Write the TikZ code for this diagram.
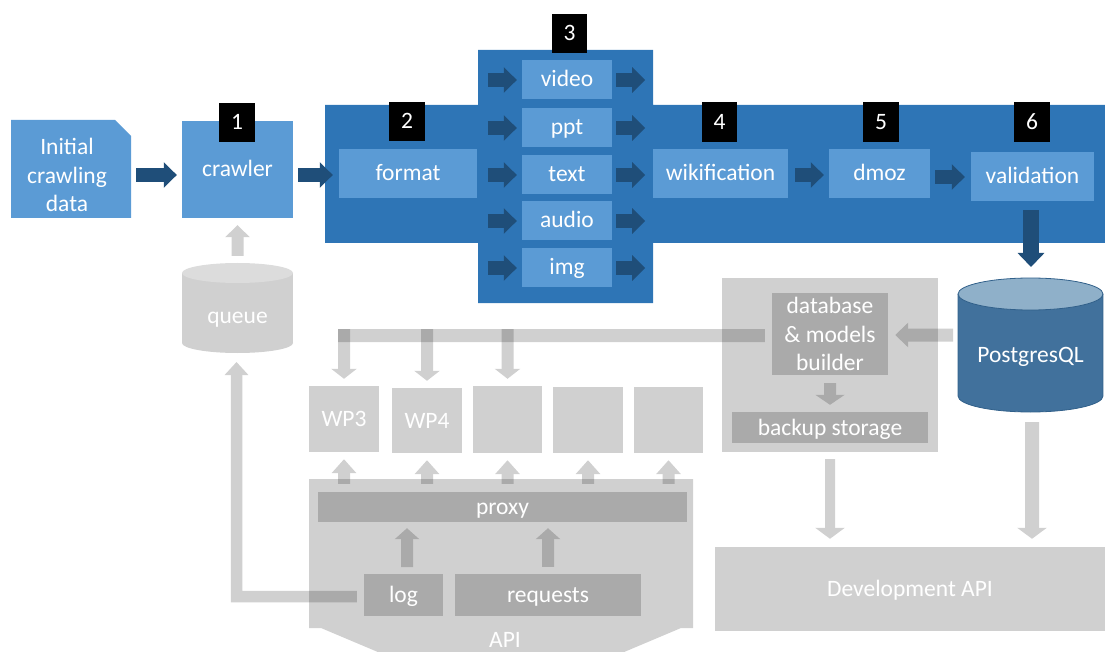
\documentclass[tikz,border=0pt]{standalone}
\usepackage{fontspec}
\setmainfont{Carlito}
\usetikzlibrary{calc,arrows.meta}
\definecolor{band}{HTML}{2E75B6}
\definecolor{lblue}{HTML}{5B9BD5}
\definecolor{darr}{HTML}{1F4E79}
\definecolor{pgbody}{HTML}{41719C}
\definecolor{pgtopcol}{HTML}{8FB0C9}
\definecolor{pgline}{HTML}{31608A}
\definecolor{qbody}{HTML}{D0D0D0}
\definecolor{qtop}{HTML}{DCDCDC}
\newcommand\grayarrow[2][]{\begin{scope}[transparency group,opacity=0.185]\draw[garr,#1] #2;\end{scope}}
\begin{document}
\begin{tikzpicture}[x=1pt,y=-1pt,
  every node/.style={font=\fontsize{23.5}{28.5}\selectfont, text=white},
  one/.style={text height=17.5pt, text depth=2.5pt},
  rect/.style 2 args={minimum width=#1pt, minimum height=#2pt, inner sep=0pt},
  bluebox/.style={fill=lblue, one},
  lab/.style={fill=black, one, rect={36}{39}},
  gbox/.style={fill=black, fill opacity=0.185, text opacity=1, one},
  barrow/.style={draw=darr, line width=14pt, -{Triangle[width=25pt,length=13pt]}},
  garr/.style={draw=black, line width=12pt, -{Triangle[width=24pt,length=12pt]}}]
\useasboundingbox (0,0) rectangle (1105,652);
\clip (0,0) rectangle (1105,652);

% ---------- blue pipeline ----------
\fill[band] (325,105) -- (478,105) -- (478,50) -- (653,50) -- (653,105) -- (1105,105)
  -- (1105,243) -- (653,243) -- (653,303) -- (478,303) -- (478,243) -- (325,243) -- cycle;
\fill[lblue] (11,120) -- (115,120) -- (131,136) -- (131,218) -- (11,218) -- cycle;
\node[align=center] (init) at (67,175) {Initial\\crawling\\data};
\coordinate (initE) at (131,175);

\node[bluebox, rect={111}{97}] (crawler) at (237.5,169.5) {crawler};
\node[bluebox, rect={138}{49}] (format) at (408,173.5) {format};
\node[bluebox, rect={90}{39}] (video) at (567,79.5) {video};
\node[bluebox, rect={90}{39}] (ppt) at (567,127.5) {ppt};
\node[bluebox, rect={90}{39}] (txt) at (567,174.5) {text};
\node[bluebox, rect={90}{39}] (audio) at (567,220.5) {audio};
\node[bluebox, rect={90}{39}] (img) at (567,267.5) {img};
\node[bluebox, rect={135}{49}] (wiki) at (720.5,173.5) {wikification};
\node[bluebox, rect={101}{49}] (dmoz) at (879.5,173.5) {dmoz};
\node[bluebox, rect={123}{49}] (valid) at (1032.5,176.5) {validation};

\node[lab] (l1) at (237,122.5) {1};
\node[lab] (l2) at (407,121.5) {2};
\node[lab, rect={35}{39}] (l3) at (569.5,33.5) {3};
\node[lab, rect={35}{40}] (l4) at (719.5,122) {4};
\node[lab, rect={36}{40}] (l5) at (881,122) {5};
\node[lab, rect={36}{40}] (l6) at (1032,122) {6};

% dark arrows
\draw[barrow, shorten <=5pt, shorten >=5pt] (initE) -- (initE -| crawler.west);
\coordinate (c2) at ($(crawler.east)+(0,5.5)$);
\draw[barrow, shorten <=5pt, shorten >=6pt] (c2) -- (c2 -| format.west);
\foreach \n in {video,ppt,txt,audio,img}{
  \draw[barrow] ($(\n.west)+(-34,0.5)$) -- ($(\n.west)+(-5,0.5)$);
  \draw[barrow] ($(\n.east)+(4,0.5)$) -- ($(\n.east)+(33,0.5)$);
}
\draw[barrow, shorten <=7pt, shorten >=5pt] ($(wiki.east)+(0,1.5)$) -- ($(dmoz.west)+(0,1.5)$);
\draw[barrow, shorten <=5pt, shorten >=6pt] ($(dmoz.east)+(0,3.5)$) -- ($(valid.west)+(0,0.5)$);

% ---------- PostgresQL ----------
\coordinate (pgtopc) at (1031,278);
\fill[pgbody] (958,294) rectangle (1103,396);
\fill[pgbody] (1030.5,396) ellipse [x radius=72.5, y radius=16];
\draw[pgline, line width=0.8pt] (958,294) -- (958,396) arc[start angle=180, end angle=0, x radius=72.5, y radius=16] -- (1103,294);
\filldraw[fill=pgtopcol, draw=pgline, line width=0.8pt] (1030.5,294) ellipse [x radius=72.5, y radius=16];
\node[one] (pg) at (1030.5,354.5) {PostgresQL};
\draw[barrow, line width=16pt, -{Triangle[width=26pt,length=14pt]}, shorten <=9pt, shorten >=11pt]
  ($(valid.south)+(-1.5,0)$) -- (pgtopc);

% ---------- queue ----------
\fill[qbody] (182,273) rectangle (293,343);
\fill[qbody] (237.5,343) ellipse [x radius=55.5, y radius=10];
\fill[qtop] (237.5,273) ellipse [x radius=55.5, y radius=10];
\node[one] (queue) at (237.5,315.5) {queue};
\coordinate (qtopp) at (237.5,263);
\coordinate (qbot) at (236.5,353);

% ---------- gray part ----------
\node[gbox, rect={216}{174}] (dbc) at (830,365) {};
\node[fill=black, fill opacity=0.185, text opacity=1, rect={116}{82}, align=center] (db) at (830,334) {database\\\& models\\builder};
\node[gbox, rect={196}{31}] (backup) at (830,427.5) {backup storage};

\node[gbox, rect={70}{66}] (wp3) at (344,419) {WP3};
\node[gbox, rect={70}{65}] (wp4) at (427,420.5) {WP4};
\node[gbox, rect={69}{67}] (wp5) at (507.5,419.5) {};
\node[gbox, rect={70}{66}] (wp6) at (588,420) {};
\node[gbox, rect={69}{66}] (wp7) at (668.5,420) {};

\fill[black, fill opacity=0.185] (309,479) -- (693,479) -- (693,628) -- (681,628) -- (501,704)
  -- (321,628) -- (309,628) -- cycle;
\node[anchor=base, inner sep=0pt] (api) at (505,647) {API};
\node[gbox, rect={369}{30}] (proxy) at (502.5,507) {proxy};
\node[gbox, rect={79}{42}] (log) at (403.5,595) {log};
\node[gbox, rect={186}{42}] (req) at (548,595) {requests};

\node[gbox, rect={390}{84}] (dev) at (910,589) {Development API};

% gray arrows
\grayarrow[shorten <=7pt, shorten >=7pt]{(qtopp) -- (crawler.south)}
\grayarrow[line width=11.5pt, -{Triangle[width=23pt,length=13pt]}, shorten <=7pt, shorten >=9pt]{($(log.west)+(0,1.5)$) -| (qbot)}
\coordinate (barL) at (338,335.5);
\grayarrow[arrows=-, line width=13pt, shorten <=7pt]{($(db.west)+(0,1.5)$) -- (barL)}
\foreach \w in {wp3,wp4,wp5}{
  \grayarrow[-{Triangle[width=25pt,length=10pt]}, shorten >=7pt]{(\w.north |- 0,329) -- (\w.north)}
}
\foreach \w in {wp3,wp4,wp5,wp6,wp7}{
  \grayarrow[-{Triangle[width=24pt,length=14pt]}, shorten <=8pt, shorten >=7pt]{(proxy.north -| \w.south) -- (\w.south)}
}
\coordinate (la) at (407,574);
\grayarrow[-{Triangle[width=24pt,length=11pt]}, shorten <=7pt, shorten >=6pt]{(la) -- (la |- proxy.south)}
\grayarrow[-{Triangle[width=24pt,length=11pt]}, shorten <=7pt, shorten >=6pt]{(req.north) -- (req.north |- proxy.south)}
\coordinate (pgL) at (958,335);
\grayarrow[line width=13pt, -{Triangle[width=24pt,length=13pt]}, shorten <=5pt, shorten >=7pt]{(pgL) -- (pgL -| db.east)}
\grayarrow[-{Triangle[width=29pt,length=10pt]}, shorten <=8pt, shorten >=7pt]{(db.south) -- (backup.north)}
\grayarrow[line width=10pt, -{Triangle[width=29pt,length=11pt]}, shorten <=7pt, shorten >=8pt]{(dbc.south) -- (dbc.south |- dev.north)}
\coordinate (pgbot) at (1032,412);
\grayarrow[line width=14pt, -{Triangle[width=29pt,length=11pt]}, shorten <=10pt, shorten >=8pt]{(pgbot) -- (pgbot |- dev.north)}
\end{tikzpicture}
\end{document}
